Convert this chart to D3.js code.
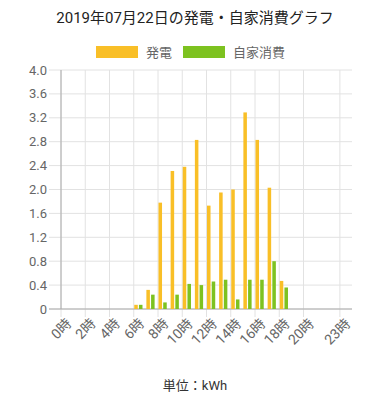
<!doctype html>
<html>
<head>
<meta charset="utf8">
<style>
  body { margin: 0; background: #fff; }
  text { font-family: Roboto, "Noto Sans CJK JP", sans-serif; }
  .grid line { stroke: #e2e2e2; }
</style>
<script src="https://d3js.org/d3.v7.min.js"></script>
</head>
<body>
<svg width="390" height="400"></svg>
<script>
var hours = d3.range(0, 24);
var hourTicks = [0, 2, 4, 6, 8, 10, 12, 14, 16, 18, 20, 23];
var seriesNames = ["発電", "自家消費"];
var generation = [0, 0, 0, 0, 0, 0, 0.07, 0.32, 1.78, 2.31, 2.38, 2.83,
                  1.73, 1.95, 2.00, 3.29, 2.83, 2.03, 0.47, 0, 0, 0, 0, 0];
var selfUse = [0, 0, 0, 0, 0, 0, 0.07, 0.24, 0.11, 0.24, 0.42, 0.40,
               0.46, 0.49, 0.16, 0.49, 0.49, 0.80, 0.36, 0, 0, 0, 0, 0];
var yTicks = [0, 0.4, 0.8, 1.2, 1.6, 2.0, 2.4, 2.8, 3.2, 3.6, 4.0];
var colors = ["#f9bf27", "#7dc220"];

var svg = d3.select("svg");
var plotLeft = 61, plotRight = 352, plotTop = 70, plotBottom = 309;

var x = d3.scaleBand().domain(hours).range([plotLeft, plotRight]);
var y = d3.scaleLinear().domain([0, 4]).range([plotBottom, plotTop]);
// bars sit in the left part of each hour slot
var xs = d3.scaleBand().domain(seriesNames).range([0.5, x.bandwidth() * 0.72]).paddingInner(0.25);

svg.append("text")
   .attr("x", 195).attr("y", 23)
   .attr("text-anchor", "middle")
   .attr("font-size", "15px")
   .attr("fill", "#222")
   .text("2019年07月22日の発電・自家消費グラフ");

// legend
var legendX = [96, 183];
seriesNames.forEach(function(name, i) {
    svg.append("rect")
       .attr("x", legendX[i]).attr("y", 46)
       .attr("width", 42).attr("height", 12)
       .attr("fill", colors[i]);
    svg.append("text")
       .attr("x", legendX[i] + 50).attr("y", 56.5)
       .attr("font-size", "13px")
       .attr("fill", "#666")
       .text(name);
});

// horizontal grid
svg.append("g").attr("class", "grid")
   .selectAll("line").data(yTicks).enter().append("line")
   .attr("x1", 49).attr("x2", plotRight)
   .attr("y1", function(d) { return y(d); })
   .attr("y2", function(d) { return y(d); });

// vertical grid
svg.append("g").attr("class", "grid")
   .selectAll("line").data(hourTicks).enter().append("line")
   .attr("x1", function(d) { return x(d); })
   .attr("x2", function(d) { return x(d); })
   .attr("y1", plotTop).attr("y2", plotBottom + 8);

svg.append("line")
   .attr("x1", plotLeft).attr("x2", plotLeft)
   .attr("y1", plotTop).attr("y2", plotBottom)
   .attr("stroke", "#aaa");
svg.append("line")
   .attr("x1", 49).attr("x2", plotRight)
   .attr("y1", plotBottom).attr("y2", plotBottom)
   .attr("stroke", "#aaa");

// y labels
svg.append("g")
   .selectAll("text").data(yTicks).enter().append("text")
   .attr("x", 47)
   .attr("y", function(d) { return y(d); })
   .attr("dy", "0.35em")
   .attr("text-anchor", "end")
   .attr("font-size", "13px")
   .attr("fill", "#666")
   .text(function(d) { return d === 0 ? "0" : d.toFixed(1); });

// x labels
svg.append("g")
   .selectAll("text").data(hourTicks).enter().append("text")
   .attr("transform", function(d) {
       return "translate(" + (x(d) + 8) + "," + (plotBottom + 12) + ") rotate(-45)";
   })
   .attr("dy", "0.35em")
   .attr("text-anchor", "end")
   .attr("font-size", "14px")
   .attr("fill", "#666")
   .text(function(d) { return d + "時"; });

// bars
var table = hours.map(function(h, i) {
    return { hour: h, values: [generation[i], selfUse[i]] };
});

var groups = svg.append("g")
   .selectAll("g").data(table).enter().append("g")
   .attr("transform", function(d) { return "translate(" + x(d.hour) + ",0)"; });

groups.selectAll("rect")
   .data(function(d) { return d.values.map(function(v, i) { return { name: seriesNames[i], value: v, i: i }; }); })
   .enter().append("rect")
   .filter(function(d) { return d.value > 0; })
   .attr("x", function(d) { return xs(d.name); })
   .attr("y", function(d) { return y(d.value); })
   .attr("width", xs.bandwidth())
   .attr("height", function(d) { return plotBottom - y(d.value); })
   .attr("fill", function(d) { return colors[d.i]; });

svg.append("text")
   .attr("x", 195).attr("y", 390)
   .attr("text-anchor", "middle")
   .attr("font-size", "13px")
   .attr("fill", "#333")
   .text("単位：kWh");
</script>
</body>
</html>
